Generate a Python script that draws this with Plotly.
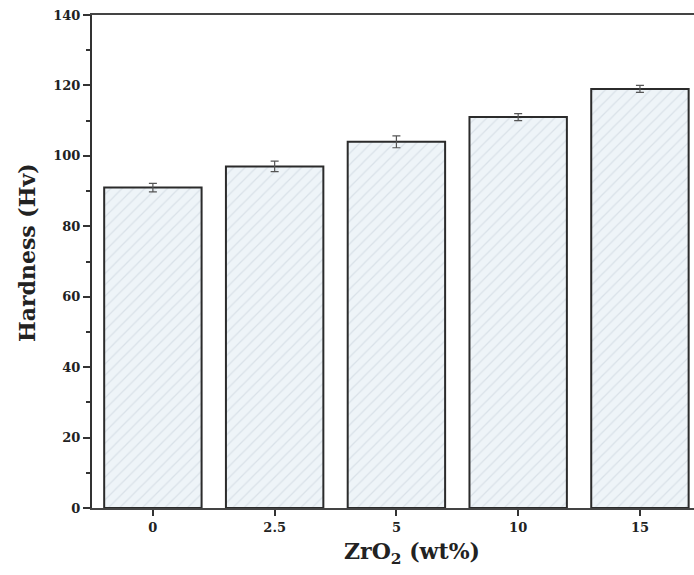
import plotly.graph_objects as go

categories = ["0", "2.5", "5", "10", "15"]
hardness = [91, 97, 104, 111, 119]
errors = [1.2, 1.5, 1.7, 1.0, 1.0]
y_ticks = [0, 20, 40, 60, 80, 100, 120, 140]

font_family = "DejaVu Serif, Liberation Serif, serif"
title_font = dict(size=22, family=font_family, color="#222222", weight="bold")

fig = go.Figure()
fig.add_trace(go.Bar(
    x=categories,
    y=hardness,
    width=0.8,
    marker=dict(
        color="#eef4f8",
        line=dict(color="#2b2b2b", width=2),
        pattern=dict(shape="/", fgcolor="#c3ced8", bgcolor="#eef4f8", size=8, solidity=0.15),
    ),
    error_y=dict(type="data", array=errors, visible=True, color="#555555", thickness=1.2, width=4),
    showlegend=False,
))

fig.update_layout(
    width=694, height=575,
    margin=dict(l=92, r=0, t=15, b=67),
    plot_bgcolor="white", paper_bgcolor="white",
    font=dict(family=font_family, color="#222222"),
    bargap=0.2,
    annotations=[
        dict(text="ZrO<sub>2</sub> (wt%)", xref="paper", yref="paper", x=0.532, y=-0.056,
             xanchor="center", yanchor="top", showarrow=False, font=title_font),
        dict(text="Hardness (Hv)", xref="paper", yref="paper", x=-0.108, y=0.519,
             xanchor="center", yanchor="middle", textangle=-90, showarrow=False, font=title_font),
    ],
)
fig.update_xaxes(
    type="category",
    range=[-0.5, 4.444],
    showline=True, linecolor="#444444", linewidth=2, mirror=True,
    ticks="outside", ticklen=6, tickwidth=2, tickcolor="#333333",
    tickfont=dict(size=13, family=font_family, color="#222222", weight="bold"),
    showgrid=False, zeroline=False,
)
fig.update_yaxes(
    range=[0, 140],
    tickvals=y_ticks,
    showline=True, linecolor="#333333", linewidth=2,
    ticks="outside", ticklen=7, tickwidth=2, tickcolor="#333333",
    minor=dict(dtick=10, ticks="outside", ticklen=4, tickwidth=2, tickcolor="#333333"),
    tickfont=dict(size=13, family=font_family, color="#222222", weight="bold"),
    showgrid=False, zeroline=False,
)

fig.write_html("out.html")
